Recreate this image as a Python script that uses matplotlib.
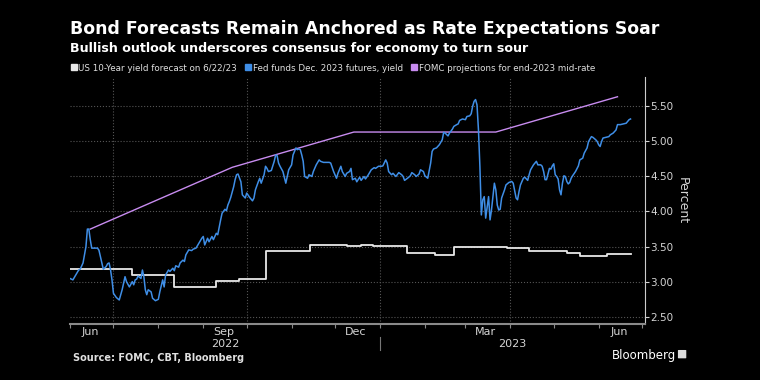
import matplotlib
matplotlib.use('Agg')
import matplotlib.pyplot as plt
import matplotlib.dates as mdates
from matplotlib.lines import Line2D
from matplotlib.patches import FancyBboxPatch
from matplotlib.ticker import FormatStrFormatter, NullFormatter
from matplotlib.transforms import blended_transform_factory
import pandas as pd

# Fed funds Dec. 2023 futures yield, days counted from 2022-06-01
blue_start = '2022-06-01'
blue_day = [0, 2, 4, 6, 7, 9, 11, 12, 13, 14, 15, 19, 20, 22, 23, 25, 26, 27, 28, 29,
            30, 32, 34, 36, 38, 39, 41, 43, 44, 45, 46, 47, 49, 50, 51, 52, 53, 54, 56, 57,
            59, 61, 62, 64, 65, 66, 68, 69, 71, 72, 73, 75, 76, 78, 79, 80, 82, 84, 85, 87,
            89, 91, 92, 93, 95, 96, 98, 99, 101, 102, 104, 105, 107, 108, 109, 110, 111, 113, 114, 115,
            116, 118, 119, 121, 122, 124, 126, 127, 128, 130, 131, 132, 134, 135, 136, 137, 139, 141, 142, 143,
            144, 145, 147, 149, 150, 151, 153, 154, 156, 157, 158, 159, 160, 161, 162, 164, 165, 167, 168, 170,
            172, 173, 175, 179, 180, 182, 184, 185, 187, 188, 190, 191, 193, 194, 195, 197, 198, 200, 201, 203,
            204, 206, 208, 210, 211, 213, 215, 216, 218, 219, 220, 222, 223, 225, 227, 229, 230, 231, 233, 235,
            236, 238, 239, 241, 242, 244, 245, 247, 249, 250, 251, 253, 255, 257, 258, 259, 261, 262, 264, 265,
            267, 268, 269, 271, 273, 274, 276, 277, 278, 279, 280, 281, 282, 283, 284, 285, 286, 287, 289, 290,
            291, 292, 293, 294, 295, 296, 297, 298, 300, 301, 303, 305, 306, 308, 309, 310, 311, 313, 314, 316,
            317, 318, 320, 322, 323, 325, 326, 327, 328, 329, 331, 332, 333, 334, 335, 336, 337, 338, 339, 340,
            341, 342, 343, 344, 345, 346, 347, 349, 351, 352, 354, 355, 357, 358, 360, 361, 363, 364, 365, 366,
            367, 368, 370, 372, 373, 375, 377, 378, 380, 382, 384, 385, 386, 387]
blue_val = [3.05, 3.03, 3.10, 3.17, 3.18, 3.27, 3.50, 3.75, 3.75, 3.60, 3.48, 3.48, 3.45, 3.27, 3.18, 3.22, 3.26, 3.27, 3.17, 3.03,
            2.84, 2.78, 2.745, 2.89, 3.075, 3.005, 2.93, 3.005, 2.96, 3.03, 3.04, 3.085, 3.05, 3.17, 3.075, 2.89, 2.82, 2.89, 2.86, 2.77,
            2.735, 2.755, 2.86, 3.03, 2.93, 3.10, 3.17, 3.15, 3.195, 3.16, 3.23, 3.21, 3.27, 3.31, 3.29, 3.385, 3.455, 3.445, 3.465, 3.48,
            3.55, 3.62, 3.645, 3.525, 3.62, 3.57, 3.645, 3.60, 3.69, 3.67, 3.88, 3.975, 4.03, 4.01, 4.09, 4.14, 4.20, 4.35, 4.45, 4.52,
            4.53, 4.42, 4.235, 4.19, 4.26, 4.20, 4.15, 4.19, 4.305, 4.42, 4.47, 4.40, 4.52, 4.64, 4.61, 4.565, 4.58, 4.71, 4.80, 4.79,
            4.685, 4.64, 4.565, 4.40, 4.495, 4.59, 4.66, 4.80, 4.90, 4.875, 4.885, 4.875, 4.80, 4.71, 4.495, 4.47, 4.52, 4.495, 4.565, 4.66,
            4.73, 4.71, 4.695, 4.695, 4.685, 4.565, 4.47, 4.54, 4.64, 4.565, 4.495, 4.54, 4.565, 4.61, 4.45, 4.47, 4.42, 4.485, 4.44, 4.495,
            4.46, 4.52, 4.59, 4.62, 4.61, 4.64, 4.64, 4.645, 4.73, 4.685, 4.565, 4.52, 4.54, 4.495, 4.55, 4.52, 4.495, 4.44, 4.47, 4.505,
            4.55, 4.52, 4.495, 4.53, 4.59, 4.565, 4.505, 4.47, 4.685, 4.85, 4.885, 4.90, 4.945, 5.015, 5.12, 5.11, 5.07, 5.11, 5.165, 5.205,
            5.23, 5.24, 5.29, 5.31, 5.30, 5.345, 5.355, 5.385, 5.49, 5.56, 5.585, 5.51, 5.16, 4.64, 3.95, 4.165, 4.21, 3.905, 4.21, 3.88,
            4.02, 4.21, 4.40, 4.305, 4.09, 4.02, 4.03, 4.19, 4.305, 4.375, 4.41, 4.425, 4.40, 4.19, 4.165, 4.28, 4.375, 4.47, 4.485, 4.44,
            4.52, 4.59, 4.66, 4.71, 4.66, 4.66, 4.64, 4.565, 4.45, 4.45, 4.61, 4.60, 4.645, 4.675, 4.52, 4.495, 4.46, 4.305, 4.235, 4.40,
            4.505, 4.495, 4.425, 4.39, 4.41, 4.47, 4.505, 4.565, 4.645, 4.73, 4.755, 4.825, 4.90, 4.99, 5.06, 5.05, 5.015, 4.99, 4.945, 4.92,
            4.99, 5.04, 5.05, 5.06, 5.085, 5.11, 5.155, 5.23, 5.23, 5.24, 5.25, 5.275, 5.30, 5.31]

# US 10-year yield forecast (step series)
white_date = ['2022-06-01', '2022-07-14', '2022-08-12', '2022-09-10', '2022-09-26', '2022-10-14',
              '2022-11-14', '2022-12-09', '2022-12-19', '2022-12-27', '2023-01-20', '2023-02-08',
              '2023-02-21', '2023-03-30', '2023-04-14', '2023-05-10', '2023-05-19', '2023-06-07', '2023-06-23']
white_val = [3.18, 3.10, 2.925, 3.015, 3.04, 3.445,
             3.525, 3.505, 3.525, 3.515, 3.41, 3.38,
             3.49, 3.48, 3.445, 3.41, 3.375, 3.40, 3.40]

# FOMC projections for end-2023 mid-rate
fomc_date = ['2022-06-15', '2022-09-21', '2022-12-14', '2023-03-22', '2023-06-14']
fomc_val = [3.75, 4.625, 5.125, 5.125, 5.625]

labels = ['US 10-Year yield forecast on 6/22/23', 'Fed funds Dec. 2023 futures, yield',
          'FOMC projections for end-2023 mid-rate']
colors = ['#e8e8e8', '#3f8ee6', '#c88cf0']
yticks = [2.5, 3.0, 3.5, 4.0, 4.5, 5.0, 5.5]
years = ['2022', '2023']

txt = '#d4d4d4'
grid_c = '#555555'

blue_x = pd.Timestamp(blue_start) + pd.to_timedelta(blue_day, unit='D')

fig = plt.figure(figsize=(7.6, 3.8), dpi=100, facecolor='black')
ax = fig.add_axes([0.0921, 0.1474, 0.7566, 0.65], facecolor='black')

ax.plot(pd.to_datetime(white_date), white_val, color=colors[0], lw=1.3, drawstyle='steps-post', zorder=3)
ax.plot(blue_x, blue_val, color=colors[1], lw=1.1, zorder=4)
ax.plot(pd.to_datetime(fomc_date), fomc_val, color=colors[2], lw=1.0, zorder=3)

x0 = pd.Timestamp('2022-06-01')
x1 = pd.Timestamp('2023-07-03')
ax.set_xlim(x0, x1)
ax.set_ylim(2.405, 5.905)

# y axis on the right
ax.yaxis.tick_right()
ax.yaxis.set_label_position('right')
ax.set_yticks(yticks)
ax.yaxis.set_major_formatter(FormatStrFormatter('%.2f'))
ax.tick_params(axis='y', colors=txt, labelsize=7.5, length=3, pad=1)
ax.set_ylabel('Percent', rotation=270, color=txt, fontsize=9, labelpad=11)

# x axis: month ticks, labels in mid-month
ax.xaxis.set_major_locator(mdates.MonthLocator())
ax.xaxis.set_major_formatter(NullFormatter())
ax.xaxis.set_minor_locator(mdates.MonthLocator(bymonth=[3, 6, 9, 12], bymonthday=15))
ax.xaxis.set_minor_formatter(mdates.DateFormatter('%b'))
ax.tick_params(axis='x', which='major', length=3, color='#888888')
ax.tick_params(axis='x', which='minor', length=0, labelcolor=txt, labelsize=8, pad=2)

ax.grid(axis='y', color=grid_c, ls=':', lw=0.8, zorder=0)
for q in pd.date_range('2022-07-01', '2023-04-01', freq='QS'):
    ax.axvline(q, color=grid_c, ls=':', lw=0.8, zorder=0)

for s in ['top', 'left']:
    ax.spines[s].set_visible(False)
ax.spines['bottom'].set_color('#8a8a8a')
ax.spines['bottom'].set_linewidth(1.5)
ax.spines['right'].set_color('#cccccc')

# year labels under the month labels
trans = blended_transform_factory(ax.transData, ax.transAxes)
jan1 = pd.Timestamp('2023-01-01')
ax.text(x0 + (jan1 - x0) / 2, -0.08, years[0], transform=trans, ha='center', va='center', color=txt, fontsize=8)
ax.text(jan1 + (x1 - jan1) / 2, -0.08, years[1], transform=trans, ha='center', va='center', color=txt, fontsize=8)
ax.plot([jan1, jan1], [-0.052, -0.107], transform=trans, clip_on=False, color='#777777', lw=0.8)

handles = [Line2D([], [], marker='s', ls='none', color=c, markersize=4.5) for c in colors]
fig.legend(handles, labels, loc='center left', bbox_to_anchor=(0.094, 0.821), ncol=3, frameon=False,
           fontsize=6.3, labelcolor='#e0e0e0', handlelength=0.5, handletextpad=0.3, columnspacing=1.0,
           borderaxespad=0, borderpad=0)

fig.text(0.092, 0.9105, 'Bond Forecasts Remain Anchored as Rate Expectations Soar',
         fontsize=12.4, weight='bold', color='white', va='baseline')
fig.text(0.092, 0.864, 'Bullish outlook underscores consensus for economy to turn sour',
         fontsize=9.1, weight='bold', color='white', va='baseline')
fig.text(0.096, 0.05, 'Source: FOMC, CBT, Bloomberg', fontsize=7, weight='bold', color='#e0e0e0', va='baseline')
fig.text(0.805, 0.055, 'Bloomberg', fontsize=8.5, color='white', va='baseline')
fig.patches.append(FancyBboxPatch((0.893, 0.058), 0.009, 0.02, boxstyle='round,pad=0.001',
                                  transform=fig.transFigure, facecolor='#dddddd', edgecolor='none'))

fig.savefig('out.png', dpi=100, facecolor='black')
